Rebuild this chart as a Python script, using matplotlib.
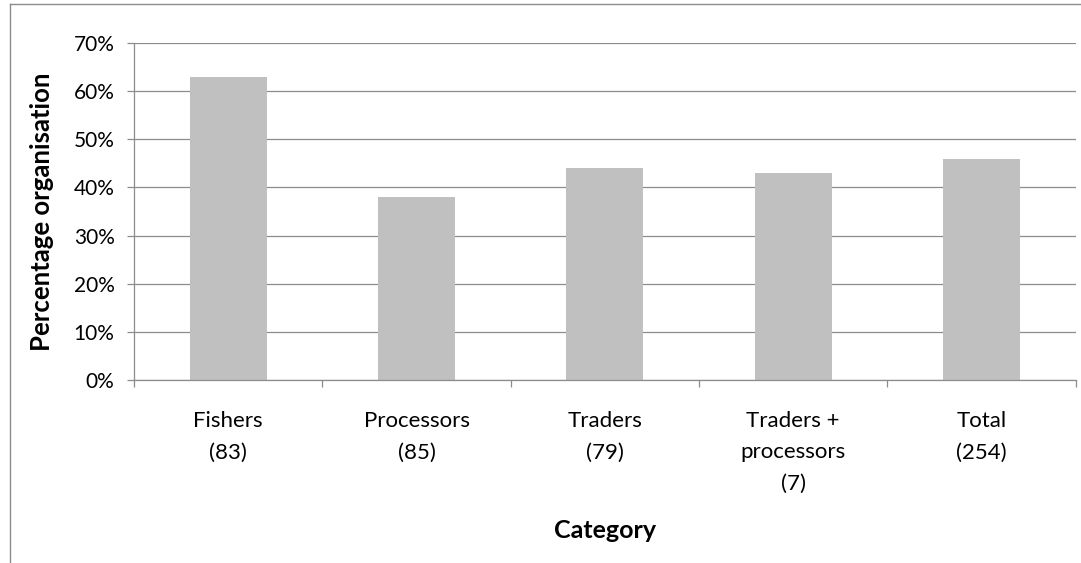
import matplotlib.pyplot as plt
from matplotlib.lines import Line2D
from matplotlib.ticker import FuncFormatter, MultipleLocator

categories = ["Fishers\n(83)", "Processors\n(85)", "Traders\n(79)",
              "Traders +\nprocessors\n(7)", "Total\n(254)"]
share = [0.63, 0.38, 0.44, 0.43, 0.46]

plt.rcParams['font.family'] = ['Lato', 'DejaVu Sans']
grey = '#8c8c8c'

fig = plt.figure(figsize=(10.81, 5.63), dpi=100)
ax = fig.add_axes([0.124, 0.325, 0.871, 0.5986])

x = range(len(categories))
ax.bar(x, share, width=0.41, color='#c0c0c0', zorder=2)

ax.set_xlim(-0.5, len(categories) - 0.5)
ax.set_ylim(0, 0.7)
ax.yaxis.set_major_locator(MultipleLocator(0.1))
ax.yaxis.set_major_formatter(FuncFormatter(lambda v, p: f"{v:.0%}"))
ax.grid(axis='y', color=grey, linewidth=0.9, zorder=0)

ax.set_xticks(list(x))
ax.set_xticklabels(categories, linespacing=1.74)
ax.set_xticks([i - 0.5 for i in range(len(categories) + 1)], minor=True)
ax.tick_params(axis='x', which='major', length=0, pad=22, labelsize=16)
ax.tick_params(axis='x', which='minor', length=5, width=0.9, color=grey)
ax.tick_params(axis='y', length=5, width=0.9, color=grey, pad=9, labelsize=15)

for s in ['top', 'right']:
    ax.spines[s].set_visible(False)
for s in ['left', 'bottom']:
    ax.spines[s].set_color(grey)
    ax.spines[s].set_linewidth(0.9)

ax.set_xlabel("Category", fontsize=18, fontweight='bold', labelpad=18)
ax.set_ylabel("Percentage organisation", fontsize=18.5, fontweight='bold', labelpad=14)

# chart frame, clipped at the right and bottom edges
fig.add_artist(Line2D([9.5 / 1081, 9.5 / 1081], [0, 1 - 4 / 563],
                      transform=fig.transFigure, color=grey, linewidth=1))
fig.add_artist(Line2D([9.5 / 1081, 1], [1 - 4 / 563, 1 - 4 / 563],
                      transform=fig.transFigure, color=grey, linewidth=1))

fig.savefig("out.png", dpi=100)
